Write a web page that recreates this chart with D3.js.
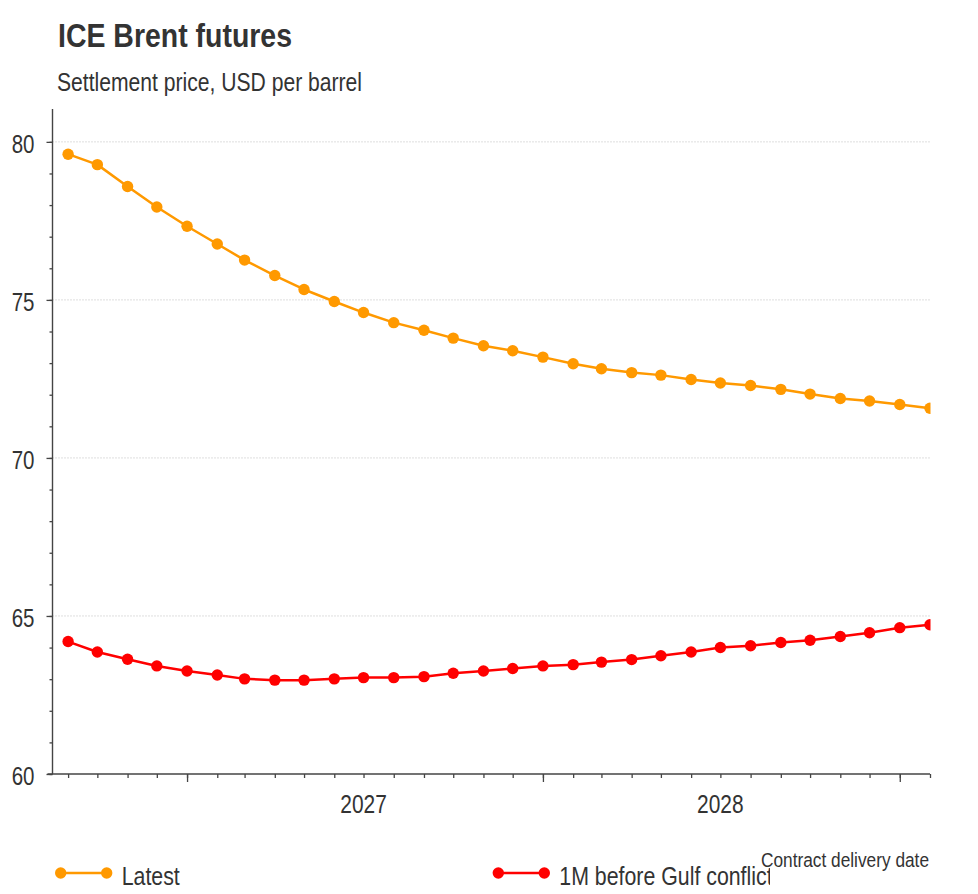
<!DOCTYPE html>
<html><head><meta charset="utf-8">
<script src="https://cdn.jsdelivr.net/npm/d3@7"></script>
<style>
body{margin:0;background:#fff}
svg{display:block}
text{font-family:"Liberation Sans",Arial,Helvetica,sans-serif;fill:#333}
</style>
</head><body>
<svg id="c" width="978" height="894"></svg>
<script>
// ---- data ----
const months = ["2026-09","2026-10","2026-11","2026-12",
  "2027-01","2027-02","2027-03","2027-04","2027-05","2027-06","2027-07","2027-08","2027-09","2027-10","2027-11","2027-12",
  "2028-01","2028-02","2028-03","2028-04","2028-05","2028-06","2028-07","2028-08","2028-09","2028-10","2028-11","2028-12",
  "2029-01","2029-02"];
const latest = [79.61,79.28,78.59,77.94,77.33,76.77,76.26,75.77,75.33,74.95,74.60,74.28,74.04,73.79,73.55,
  73.39,73.19,72.98,72.82,72.70,72.62,72.48,72.37,72.29,72.17,72.02,71.88,71.80,71.69,71.57];
const beforeConflict = [64.19,63.86,63.63,63.42,63.26,63.13,63.01,62.97,62.97,63.01,63.05,63.05,63.08,63.19,63.26,
  63.34,63.42,63.46,63.54,63.62,63.74,63.86,64.00,64.06,64.16,64.23,64.35,64.47,64.63,64.72];
const seriesNames = ["Latest","1M before Gulf conflict"];
const yTicks = [60,65,70,75,80];
const yearLabels = [2027,2028];

// ---- setup ----
const parse = d3.utcParse("%Y-%m");
const dates = months.map(parse);
const colors = ["#ff9900","#ff0000"];
const series = [latest, beforeConflict];
const NARROW = 0.82;
const RAD = 5.7;

const svg = d3.select("#c");
const L = 52.5, R = 930, T = 109, B = 774;

const x = d3.scaleUtc()
  .domain([new Date(Date.UTC(2026,7,16)), new Date(Date.UTC(2029,1,1))])
  .range([L, R]);
const y = d3.scaleLinear().domain([60, 81.04]).range([B, T]);

// titles
svg.append("text").attr("x",58).attr("y",47).style("font-size","33px").style("font-weight","bold")
  .attr("textLength",234).attr("lengthAdjust","spacingAndGlyphs")
  .text("ICE Brent futures");
svg.append("text").attr("x",57).attr("y",91).style("font-size","26.5px")
  .attr("textLength",305).attr("lengthAdjust","spacingAndGlyphs")
  .text("Settlement price, USD per barrel");

// grid
svg.append("g").selectAll("line").data(yTicks.filter(v => v > 60)).join("line")
  .attr("x1", L).attr("x2", R).attr("y1", d => y(d)).attr("y2", d => y(d))
  .attr("stroke","#bdbdbd").attr("stroke-width",1).attr("stroke-dasharray","1,2");

// y axis minor
const yMinor = svg.append("g").attr("transform",`translate(${L},0)`)
  .call(d3.axisLeft(y).tickValues(d3.range(60,81,1)).tickSize(3).tickFormat(""));
yMinor.select(".domain").remove();
const yMajor = svg.append("g").attr("transform",`translate(${L},0)`)
  .call(d3.axisLeft(y).tickValues(yTicks).tickSize(6).tickPadding(12).tickFormat(d3.format("d")));
yMajor.select(".domain").remove();
yMajor.selectAll("text").attr("class","nar").style("font-size","25px").attr("dy","0.42em").attr("fill","#333");

// x axis
const monthTicks = d3.utcMonth.range(new Date(Date.UTC(2026,8,1)), new Date(Date.UTC(2029,1,2)));
const xMinor = svg.append("g").attr("transform",`translate(0,${B})`)
  .call(d3.axisBottom(x).tickValues(monthTicks).tickSize(4).tickFormat(""));
xMinor.select(".domain").remove();
const xMajor = svg.append("g").attr("transform",`translate(0,${B})`)
  .call(d3.axisBottom(x).tickValues(d3.utcYear.range(new Date(Date.UTC(2027,0,1)), new Date(Date.UTC(2029,0,2)))).tickSize(8).tickFormat(""));
xMajor.select(".domain").remove();
svg.selectAll(".tick line").attr("stroke","#444").attr("stroke-width",1.3);

svg.append("g").selectAll("text").data(yearLabels).join("text")
  .attr("class","nar")
  .attr("x", d => x(new Date(Date.UTC(d,6,1))))
  .attr("y", 812.5).attr("text-anchor","middle").style("font-size","25.5px")
  .text(d => d);

// axis lines
svg.append("line").attr("x1",47.5).attr("x2",R).attr("y1",B).attr("y2",B).attr("stroke","#444").attr("stroke-width",1.4);
svg.append("line").attr("x1",L).attr("x2",L).attr("y1",T).attr("y2",B).attr("stroke","#444").attr("stroke-width",1.4);

// clip
svg.append("clipPath").attr("id","plotclip").append("rect")
  .attr("x",L).attr("y",T-10).attr("width",R-L+0.5).attr("height",B-T+10);

const plot = svg.append("g").attr("clip-path","url(#plotclip)");
const line = d3.line().x((d,i) => x(dates[i])).y(d => y(d));
series.forEach((s, k) => {
  plot.append("path").datum(s).attr("d", line).attr("fill","none")
    .attr("stroke", colors[k]).attr("stroke-width",2.5).attr("stroke-linejoin","round");
  plot.append("g").selectAll("circle").data(s).join("circle")
    .attr("cx",(d,i) => x(dates[i])).attr("cy", d => y(d)).attr("r",RAD).attr("fill",colors[k]);
});

// x axis title
svg.append("text").attr("x",929).attr("y",867).attr("text-anchor","end").style("font-size","20.5px")
  .attr("textLength",168).attr("lengthAdjust","spacingAndGlyphs")
  .text("Contract delivery date");

// legend
svg.append("clipPath").attr("id","legclip").append("rect").attr("x",0).attr("y",840).attr("width",770).attr("height",60);
const legX = [60.7, 498.3];
const leg = svg.append("g").attr("clip-path","url(#legclip)");
seriesNames.forEach((n, k) => {
  const g = leg.append("g").attr("transform",`translate(${legX[k]},873)`);
  g.append("line").attr("x1",0).attr("x2",46).attr("stroke",colors[k]).attr("stroke-width",2.5);
  g.append("circle").attr("cx",0).attr("r",RAD).attr("fill",colors[k]);
  g.append("circle").attr("cx",46).attr("r",RAD).attr("fill",colors[k]);
  g.append("text").attr("class","nar").attr("x",61).attr("y",12).style("font-size","26px").text(n);
});

// condense regular text to a narrow face
svg.selectAll("text.nar").each(function(){
  const len = this.getComputedTextLength();
  d3.select(this).attr("textLength", len * NARROW).attr("lengthAdjust","spacingAndGlyphs");
});
</script>
</body></html>
